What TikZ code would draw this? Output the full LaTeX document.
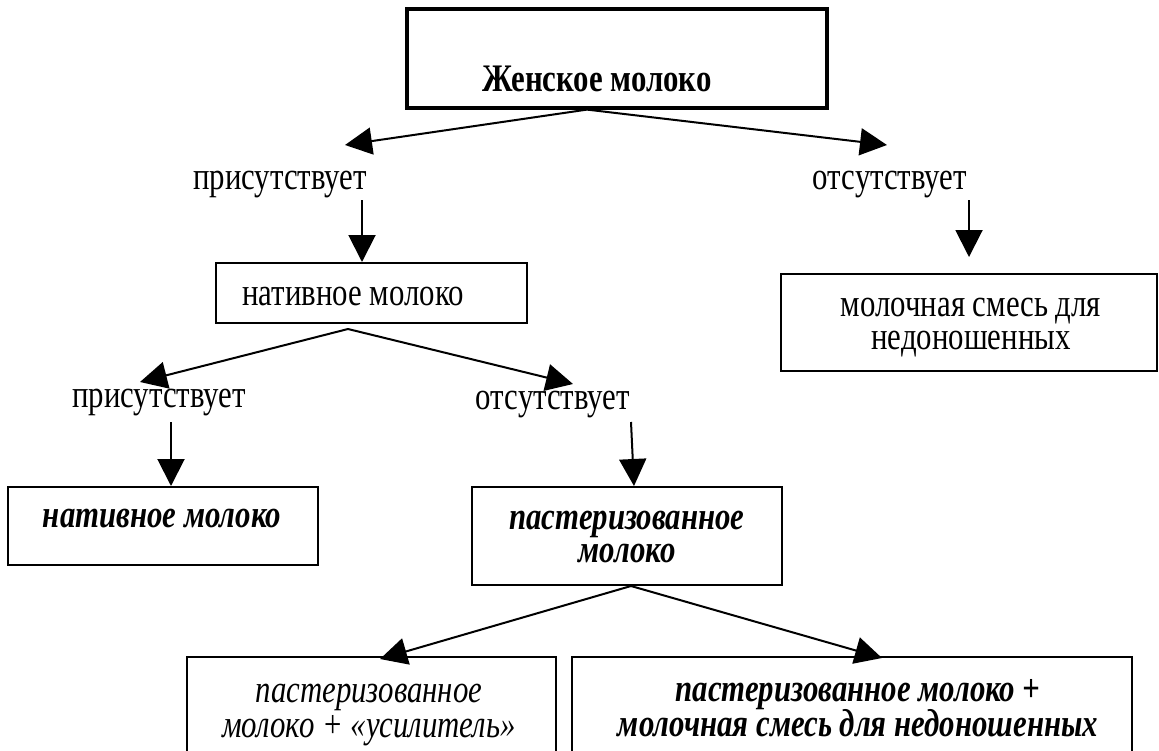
\documentclass[tikz,border=0pt]{standalone}
\usepackage{fontspec}
\setmainfont{Liberation Serif}[FakeStretch=0.79]
\usetikzlibrary{arrows.meta}
\begin{document}
\begin{tikzpicture}[x=1pt,y=-1pt,
  box/.style={draw, line width=2pt, rectangle, inner sep=0pt},
  arr/.style={line width=2pt, -{Triangle[length=27pt,width=27pt]}},
  txt/.style={font=\fontsize{39}{34}\selectfont, inner sep=0pt},
  bl/.style={txt, anchor=base}]
\useasboundingbox (0,0) rectangle (1159,750);
\clip (0,0) rectangle (1159,750);
% boxes
\node[box, line width=3.2pt, minimum width=420pt, minimum height=99pt] (top) at (617,58.5) {};
\node[txt, font=\fontsize{39}{34}\selectfont\bfseries] (toptxt) at (597,79) {Женское молоко};
\node[box, minimum width=311pt, minimum height=60pt] (nat) at (371.5,293) {};
\node[txt] (nattxt) at (353,296) {нативное молоко};
\node[box, minimum width=376pt, minimum height=97pt] (mix) at (969,322.5) {};
\node[bl] (mixtxta) at (971,316) {молочная смесь для};
\node[bl] (mixtxtb) at (971,349) {недоношенных};
\node[box, minimum width=310pt, minimum height=78pt] (nat2) at (163,526) {};
\node[txt, font=\fontsize{39}{34}\selectfont\bfseries\itshape] (nat2txt) at (162,519) {нативное молоко};
\node[box, minimum width=310pt, minimum height=98pt] (past) at (627,536) {};
\node[bl, font=\fontsize{39}{34}\selectfont\bfseries\itshape] (pasttxta) at (627,529) {пастеризованное};
\node[bl, font=\fontsize{39}{34}\selectfont\bfseries\itshape] (pasttxtb) at (627,562) {молоко};
\node[box, minimum width=369pt, minimum height=113pt] (blbox) at (371.5,713.5) {};
\node[bl, font=\fontsize{39}{35}\selectfont\itshape] (bltxta) at (369,702) {пастеризованное};
\node[bl, font=\fontsize{39}{35}\selectfont\itshape] (bltxtb) at (369,737) {молоко + «усилитель»};
\node[box, minimum width=560pt, minimum height=113pt] (brbox) at (852,713.5) {};
\node[bl, font=\fontsize{39}{35}\selectfont\bfseries\itshape] (brtxta) at (858,701) {пастеризованное молоко +};
\node[bl, font=\fontsize{39}{35}\selectfont\bfseries\itshape] (brtxtb) at (858,736) {молочная смесь для недоношенных};
% labels
\node[txt] (l1) at (280,185) {присутствует};
\node[txt] (r1) at (890,185) {отсутствует};
\node[txt] (l2) at (159,403) {присутствует};
\node[txt] (r2) at (553,405) {отсутствует};
% free-end coordinates
\coordinate (a1) at (345,145);
\coordinate (a2) at (887,145);
\coordinate (d1s) at (362,200);
\coordinate (d2s) at (969,200);
\coordinate (d2e) at (969,257);
\coordinate (b1) at (140,382);
\coordinate (b2) at (573,384);
\coordinate (e1s) at (171,422);
\coordinate (e2s) at (631,422);
\coordinate (f1) at (380,659);
\coordinate (f2) at (882,658);
% connectors
\draw[arr] ([xshift=-30pt]top.south) -- (a1);
\draw[arr] ([xshift=-30pt]top.south) -- (a2);
\draw[arr] (d1s) -- (d1s |- nat.north);
\draw[arr] (d2s) -- (d2e);
\draw[arr] ([xshift=-23.5pt,yshift=-5pt]nat.south) -- (b1);
\draw[arr] ([xshift=-23.5pt,yshift=-5pt]nat.south) -- (b2);
\draw[arr] (e1s) -- (e1s |- nat2.north);
\draw[arr] (e2s) -- ([xshift=7pt]past.north);
\draw[arr] ([xshift=4pt]past.south) -- (f1);
\draw[arr] ([xshift=4pt]past.south) -- (f2);
\end{tikzpicture}
\end{document}
